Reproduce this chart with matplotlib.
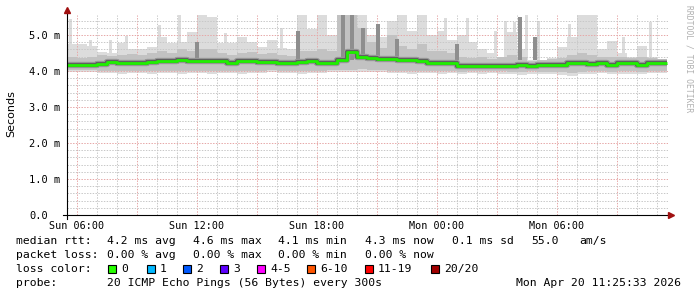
import numpy as np
import matplotlib
matplotlib.use("Agg")
import matplotlib.pyplot as plt
from matplotlib.lines import Line2D
from matplotlib.patches import Rectangle

# ── DATA (values in ms, time in hours since Sun 00:00) ─────
t_start, t_step = 5.5, 0.5

median = [4.17, 4.16, 4.17, 4.20, 4.24, 4.22, 4.21, 4.23, 4.26, 4.29,
          4.29, 4.31, 4.28, 4.28, 4.29, 4.27, 4.22, 4.27, 4.29, 4.24,
          4.26, 4.22, 4.21, 4.24, 4.29, 4.22, 4.23, 4.30, 4.52, 4.40,
          4.37, 4.33, 4.32, 4.30, 4.30, 4.28, 4.21, 4.21, 4.22, 4.15,
          4.13, 4.14, 4.15, 4.15, 4.13, 4.16, 4.14, 4.16, 4.17, 4.16,
          4.21, 4.22, 4.20, 4.21, 4.18, 4.21, 4.22, 4.17, 4.21, 4.23]

low = [3.98, 3.97, 3.96, 3.95, 3.94, 3.93, 3.94, 3.94, 3.93, 3.95,
       3.94, 3.93, 3.94, 3.95, 3.93, 3.94, 3.95, 3.93, 3.94, 3.95,
       3.96, 3.95, 3.94, 3.93, 3.95, 3.94, 3.96, 3.96, 3.97, 3.98,
       3.98, 3.96, 3.95, 3.94, 3.93, 3.95, 3.94, 3.93, 3.94, 3.92,
       3.95, 3.93, 3.94, 3.93, 3.92, 3.89, 3.93, 3.92, 3.91, 3.90,
       3.87, 3.91, 3.93, 3.94, 3.92, 3.93, 3.93, 3.92, 3.94, 3.95]

mid_low = [4.04, 4.03, 4.02, 4.01, 4.00, 3.99, 4.00, 4.00, 3.99, 4.01,
           4.00, 3.99, 4.00, 4.01, 3.99, 4.00, 4.01, 3.99, 4.00, 4.01,
           4.02, 4.01, 4.00, 3.99, 4.01, 4.00, 4.02, 4.03, 4.04, 4.05,
           4.04, 4.02, 4.01, 4.00, 3.99, 4.01, 4.00, 3.99, 4.00, 3.98,
           4.00, 3.99, 4.00, 3.99, 3.98, 3.96, 3.99, 3.98, 3.97, 3.96,
           3.94, 3.97, 3.99, 4.00, 3.98, 3.99, 3.99, 3.98, 4.00, 4.01]

mid_high = [4.40, 4.35, 4.38, 4.45, 4.42, 4.45, 4.48, 4.45, 4.50, 4.55,
            4.50, 4.60, 4.55, 4.60, 4.62, 4.50, 4.45, 4.50, 4.52, 4.48,
            4.50, 4.45, 4.42, 4.55, 4.55, 4.60, 4.55, 5.56, 5.56, 5.20,
            4.80, 4.65, 5.00, 4.70, 4.60, 4.75, 4.55, 4.55, 4.50, 4.40,
            4.35, 4.38, 4.32, 4.40, 4.45, 4.38, 4.28, 4.30, 4.32, 4.35,
            4.45, 4.50, 4.45, 4.40, 4.40, 4.38, 4.35, 4.40, 4.35, 4.32]

high = [4.75, 4.75, 4.70, 4.52, 4.50, 4.77, 4.60, 4.60, 4.68, 4.95,
        4.77, 4.80, 5.09, 5.58, 5.50, 4.77, 4.77, 4.95, 4.80, 4.68,
        4.86, 4.63, 4.60, 5.56, 5.17, 5.56, 5.00, 5.56, 5.56, 5.56,
        5.00, 4.95, 5.40, 5.56, 5.10, 5.56, 5.00, 5.10, 4.86, 5.00,
        4.80, 4.60, 4.50, 4.40, 5.09, 4.60, 4.30, 4.30, 4.35, 4.68,
        4.95, 5.56, 5.56, 4.60, 4.82, 4.50, 4.40, 4.70, 4.40, 4.30]

# narrow light smoke spikes: hour, top (ms)
spike_hours = [5.65, 6.65, 7.65, 8.45, 10.1, 11.1, 13.4, 16.2, 21.8, 24.4,
               25.5, 26.9, 27.4, 27.85, 28.45, 29.05, 30.6, 31.9, 33.3, 34.65]
spike_tops  = [5.45, 4.85, 4.85, 4.97, 5.28, 5.58, 5.05, 5.20, 5.35, 5.46,
               5.46, 5.10, 5.40, 5.36, 5.58, 5.40, 5.30, 4.85, 4.95, 5.36]
# darker / medium smoke columns
dark_spike_hours = [12.0, 17.05, 19.3, 19.75, 20.3, 21.05, 22.0, 25.0, 28.15, 28.9]
dark_spike_tops  = [4.80, 5.10, 5.58, 5.58, 5.20, 5.30, 4.90, 4.75, 5.50, 4.95]

loss_labels = ["0", "1", "2", "3", "4-5", "6-10", "11-19", "20/20"]
loss_colors = ["#26ff00", "#00b8ff", "#0059ff", "#5e00ff", "#ff00ff", "#ff5500", "#ff0000", "#a10000"]

x_ticks = [6, 12, 18, 24, 30]
x_tick_labels = ["Sun 06:00", "Sun 12:00", "Sun 18:00", "Mon 00:00", "Mon 06:00"]
y_ticks = [0, 1, 2, 3, 4, 5]
y_tick_labels = ["0.0", "1.0 m", "2.0 m", "3.0 m", "4.0 m", "5.0 m"]

# ── CANVAS ─────────────────────────────────────────────────
W, H = 697, 297
fig = plt.figure(figsize=(W / 100, H / 100), dpi=100, facecolor="white")
def fx(x): return x / W
def fy(y): return 1 - y / H

ax = fig.add_axes([fx(67), fy(215), fx(668) - fx(67), fy(15) - fy(215)])
ax.set_xlim(5.5, 35.55)
ax.set_ylim(0, 200 / 36)
for s in ax.spines.values():
    s.set_visible(False)

mono = "DejaVu Sans Mono"

# grid (above the light smoke, below the darker layers)
ax.set_xticks(x_ticks)
ax.set_yticks(y_ticks)
dots = (0, (1.4, 1.4))
for h in np.arange(6, 36, 1):
    c = "#e6a8a8" if h % 3 == 0 else "#c8c8c8"
    ax.axvline(h, color=c, lw=0.72, ls=dots, zorder=1.5)
for k in range(1, 28):
    v = k * 0.2
    c = "#e6a8a8" if k % 5 == 0 else "#c8c8c8"
    ax.axhline(v, color=c, lw=0.72, ls=dots, zorder=1.5)

# ── SMOKE ──────────────────────────────────────────────────
n = len(median)
edges = t_start + t_step * np.arange(n + 1)
def st(a):
    return np.append(a, a[-1])

ax.fill_between(edges, st(low), st(high), step="post", color="#dcdcdc", lw=0, zorder=1)
ax.bar(spike_hours, np.array(spike_tops) - 4.3, bottom=4.3, width=0.15,
       color="#dcdcdc", lw=0, zorder=1)
ax.fill_between(edges, st(mid_low), st(mid_high), step="post", color="#c2c2c2", lw=0, zorder=2)
ax.bar(dark_spike_hours, np.array(dark_spike_tops) - 4.3, bottom=4.3, width=0.2,
       color="#8e8e8e", lw=0, zorder=2)

ax.step(edges, st(median), where="post", color="#9a9a9a", lw=4.6, zorder=3,
        solid_capstyle="butt")
ax.step(edges, st(median), where="post", color="#606060", lw=3.0, zorder=4,
        solid_capstyle="butt")
ax.step(edges, st(median), where="post", color="#20f000", lw=2.0, zorder=5,
        solid_capstyle="butt")

# ── TICKS ──────────────────────────────────────────────────
ax.tick_params(which="both", length=0)
ax.set_xticklabels(x_tick_labels, fontsize=7.3, family=mono)
ax.tick_params(axis="x", pad=4)
ax.set_yticklabels(y_tick_labels, fontsize=7.5, family=mono)
ax.tick_params(axis="y", pad=38 * 0.72)
for lab in ax.get_yticklabels():
    lab.set_horizontalalignment("left")

# axes lines + arrows
fig.add_artist(Line2D([fx(63), fx(669)], [fy(215), fy(215)], color="black", lw=0.8))
fig.add_artist(Line2D([fx(67), fx(67)], [fy(219), fy(11)], color="black", lw=0.8))
fig.add_artist(Line2D([fx(671)], [fy(215)], marker=">", ms=3.8, color="#a01010", lw=0))
fig.add_artist(Line2D([fx(67)], [fy(10)], marker="^", ms=3.8, color="#a01010", lw=0))

# ── LABELS ─────────────────────────────────────────────────
fig.text(fx(11), fy(114), "Seconds", rotation=90, ha="center", va="center", fontsize=8)
fig.text(fx(689), fy(5), "RRDTOOL / TOBI OETIKER", rotation=270, ha="center", va="top",
         fontsize=5.8, family=mono, color="#b0b0b0")

fs = 8.2
rows = [241, 255, 269, 283]
fig.text(fx(16), fy(rows[0]), "median rtt:", fontsize=fs, family=mono, va="center")
for x, s in zip([107, 193, 278, 365, 452, 531, 579],
                ["4.2 ms avg", "4.6 ms max", "4.1 ms min", "4.3 ms now", "0.1 ms sd", "55.0", "am/s"]):
    fig.text(fx(x), fy(rows[0]), s, fontsize=fs, family=mono, va="center")

fig.text(fx(16), fy(rows[1]), "packet loss:", fontsize=fs, family=mono, va="center")
for x, s in zip([107, 193, 278, 365],
                ["0.00 % avg", "0.00 % max", "0.00 % min", "0.00 % now"]):
    fig.text(fx(x), fy(rows[1]), s, fontsize=fs, family=mono, va="center")

fig.text(fx(16), fy(rows[2]), "loss color:", fontsize=fs, family=mono, va="center")
box_x = [108, 147, 183, 220, 257, 307, 365, 431]
for x, lab, col in zip(box_x, loss_labels, loss_colors):
    fig.add_artist(Rectangle((fx(x), fy(rows[2] + 4)), 8 / W, 8 / H, facecolor=col,
                             edgecolor="black", lw=0.8))
    fig.text(fx(x + 13), fy(rows[2]), lab, fontsize=fs, family=mono, va="center")

fig.text(fx(16), fy(rows[3]), "probe:", fontsize=fs, family=mono, va="center")
fig.text(fx(107), fy(rows[3]), "20 ICMP Echo Pings (56 Bytes) every 300s",
         fontsize=fs, family=mono, va="center")
fig.text(fx(681), fy(rows[3]), "Mon Apr 20 11:25:33 2026", fontsize=fs, family=mono,
         va="center", ha="right")

fig.savefig("out.png", dpi=100, facecolor="white")
